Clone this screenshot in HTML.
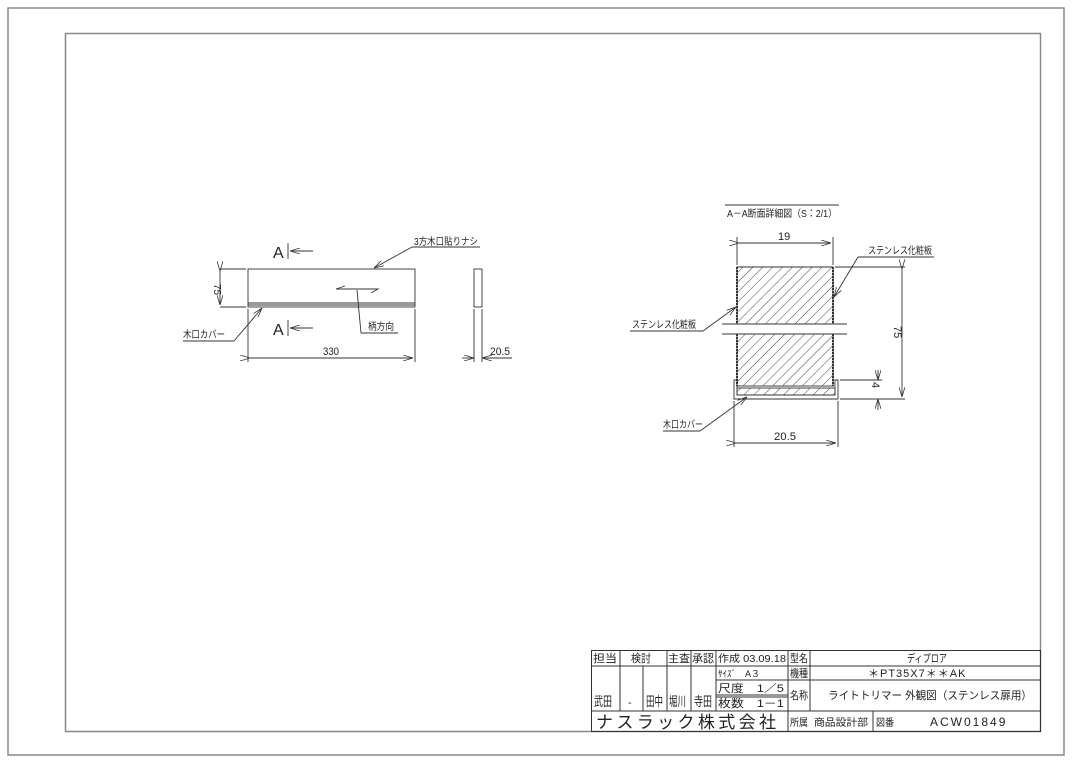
<!DOCTYPE html>
<html><head><meta charset="utf-8"><style>
html,body{margin:0;padding:0;background:#fff;}
svg{display:block;font-family:"Liberation Sans","Noto Sans CJK JP",sans-serif;}
</style></head><body>
<svg width="1080" height="764" viewBox="0 0 1080 764" xmlns="http://www.w3.org/2000/svg">
<defs>
<pattern id="h" patternUnits="userSpaceOnUse" width="7" height="7" patternTransform="rotate(45)">
<line x1="0" y1="0" x2="0" y2="7" stroke="#333" stroke-width="0.9"/>
</pattern>
<marker id="a" markerWidth="10" markerHeight="6" refX="10" refY="3" orient="auto" markerUnits="userSpaceOnUse"><path d="M0,0 L10,3 L0,6" fill="none" stroke="#333" stroke-width="0.8"/></marker>
</defs>
<g fill="none" stroke="#888" stroke-width="1.5">
<rect x="8" y="8" width="1056" height="747"/>
<rect x="65.5" y="33.5" width="975" height="698"/>
</g>
<g stroke="#333" stroke-width="0.9" fill="none">
<rect x="248" y="269" width="167" height="38"/>
<line x1="248" y1="303" x2="415" y2="303"/>
<line x1="248" y1="305" x2="415" y2="305"/>
<rect x="474" y="269" width="8" height="38"/>
<line x1="220" y1="269" x2="246" y2="269"/>
<line x1="220" y1="307" x2="246" y2="307"/>
<line x1="220" y1="271" x2="220" y2="305" marker-start="url(#a)" marker-end="url(#a)"/>
<line x1="248" y1="309" x2="248" y2="362"/>
<line x1="415" y1="309" x2="415" y2="362"/>
<line x1="250" y1="358" x2="413" y2="358" marker-start="url(#a)" marker-end="url(#a)"/>
<line x1="474" y1="309" x2="474" y2="362"/>
<line x1="482" y1="309" x2="482" y2="362"/>
<line x1="462" y1="358" x2="474" y2="358" marker-end="url(#a)"/>
<line x1="494" y1="358" x2="482" y2="358" marker-end="url(#a)"/>
<line x1="482" y1="358" x2="512" y2="358"/>
<line x1="288" y1="243" x2="288" y2="259"/>
<line x1="313" y1="251" x2="290" y2="251" marker-end="url(#a)"/>
<line x1="288" y1="320" x2="288" y2="336"/>
<line x1="313" y1="328" x2="290" y2="328" marker-end="url(#a)"/>
<line x1="480" y1="247" x2="412" y2="247"/>
<line x1="412" y1="247" x2="374" y2="268" marker-end="url(#a)"/>
<line x1="183" y1="341" x2="234" y2="341"/>
<line x1="234" y1="341" x2="262" y2="308" marker-end="url(#a)"/>
<path d="M336,289 L378,289 L371,293 M336,289 L345,286"/>
<line x1="357" y1="290" x2="361" y2="333"/>
<line x1="361" y1="333" x2="398" y2="333"/>
<rect x="737" y="267" width="96" height="57" fill="url(#h)"/>
<rect x="737" y="334" width="96" height="52" fill="url(#h)"/>
<line x1="737" y1="267" x2="833" y2="267"/>
<line x1="737" y1="267" x2="737" y2="324" stroke-dasharray="2,1" stroke-width="2"/>
<line x1="833" y1="267" x2="833" y2="324" stroke-dasharray="2,1" stroke-width="2"/>
<line x1="737" y1="334" x2="737" y2="386" stroke-dasharray="2,1" stroke-width="2"/>
<line x1="833" y1="334" x2="833" y2="386" stroke-dasharray="2,1" stroke-width="2"/>
<line x1="722" y1="324" x2="847" y2="324"/>
<line x1="722" y1="334" x2="847" y2="334"/>
<path d="M734,380 L734,399 L838,399 L838,380 L835,380 L835,395 L737,395 L737,380 Z"/>
<rect x="737" y="388" width="98" height="7" fill="url(#h)"/>
<line x1="737" y1="237" x2="737" y2="265"/>
<line x1="833" y1="237" x2="833" y2="265"/>
<line x1="739" y1="243" x2="831" y2="243" marker-start="url(#a)" marker-end="url(#a)"/>
<line x1="835" y1="267" x2="905" y2="267"/>
<line x1="840" y1="399" x2="905" y2="399"/>
<line x1="902" y1="269" x2="902" y2="397" marker-start="url(#a)" marker-end="url(#a)"/>
<line x1="840" y1="380" x2="882" y2="380"/>
<line x1="878" y1="370" x2="878" y2="380" marker-end="url(#a)"/>
<line x1="878" y1="410" x2="878" y2="399" marker-end="url(#a)"/>
<line x1="734" y1="401" x2="734" y2="447"/>
<line x1="838" y1="401" x2="838" y2="447"/>
<line x1="736" y1="443" x2="836" y2="443" marker-start="url(#a)" marker-end="url(#a)"/>
<line x1="934" y1="257" x2="858" y2="257"/>
<line x1="858" y1="257" x2="834" y2="297" marker-end="url(#a)"/>
<line x1="630" y1="331" x2="703" y2="331"/>
<line x1="703" y1="331" x2="736" y2="307" marker-end="url(#a)"/>
<line x1="663" y1="431" x2="700" y2="431"/>
<line x1="700" y1="431" x2="747" y2="397" marker-end="url(#a)"/>
<line x1="725" y1="205" x2="839" y2="205"/>
</g>
<g fill="#222" font-size="10">
<text x="273" y="258" font-size="16">A</text>
<text x="273" y="335" font-size="16">A</text>
<text x="414" y="245" textLength="64" lengthAdjust="spacingAndGlyphs">3方木口貼りナシ</text>
<text x="183" y="338" textLength="42" lengthAdjust="spacingAndGlyphs">木口カバー</text>
<text x="368" y="330" textLength="26" lengthAdjust="spacingAndGlyphs">柄方向</text>
<text x="323" y="355" font-size="11" textLength="16" lengthAdjust="spacingAndGlyphs">330</text>
<text x="490" y="355" font-size="11" textLength="20" lengthAdjust="spacingAndGlyphs">20.5</text>
<text x="210" y="288" transform="rotate(90 214 288)">75</text>
<text x="727" y="217" textLength="110" lengthAdjust="spacingAndGlyphs">A－A断面詳細図（S：2/1）</text>
<text x="778" y="240" font-size="11">19</text>
<text x="868" y="254" textLength="64" lengthAdjust="spacingAndGlyphs">ステンレス化粧板</text>
<text x="632" y="328" textLength="64" lengthAdjust="spacingAndGlyphs">ステンレス化粧板</text>
<text x="663" y="428" textLength="40" lengthAdjust="spacingAndGlyphs">木口カバー</text>
<text x="774" y="440" font-size="11" textLength="22" lengthAdjust="spacingAndGlyphs">20.5</text>
<text x="890" y="330" font-size="11" transform="rotate(90 894 330)">75</text>
<text x="868" y="386" font-size="11" transform="rotate(90 872 386)">4</text>
</g>
<g stroke="#333" stroke-width="1" fill="none">
<rect x="591.5" y="650.5" width="449" height="81"/>
<line x1="591" y1="666" x2="1040" y2="666"/>
<line x1="716" y1="680" x2="1040" y2="680"/>
<line x1="716" y1="695" x2="788" y2="695"/>
<line x1="716" y1="697" x2="788" y2="697"/>
<line x1="591" y1="711" x2="1040" y2="711"/>
<line x1="620" y1="650" x2="620" y2="711"/>
<line x1="643" y1="666" x2="643" y2="711"/>
<line x1="667" y1="650" x2="667" y2="711"/>
<line x1="691" y1="650" x2="691" y2="711"/>
<line x1="716" y1="650" x2="716" y2="711"/>
<line x1="788" y1="650" x2="788" y2="731"/>
<line x1="810" y1="650" x2="810" y2="711"/>
<line x1="873" y1="711" x2="873" y2="731"/>
</g>
<g fill="#222" font-size="11">
<text x="593" y="662" textLength="24" lengthAdjust="spacingAndGlyphs">担当</text>
<text x="631" y="662" textLength="20" lengthAdjust="spacingAndGlyphs">検討</text>
<text x="668" y="662" textLength="22" lengthAdjust="spacingAndGlyphs">主査</text>
<text x="692" y="662" textLength="22" lengthAdjust="spacingAndGlyphs">承認</text>
<text x="718" y="662" font-size="10" textLength="68" lengthAdjust="spacingAndGlyphs">作成 03.09.18</text>
<text x="790" y="662" textLength="18" lengthAdjust="spacingAndGlyphs">型名</text>
<text x="907" y="662" textLength="40" lengthAdjust="spacingAndGlyphs">ディプロア</text>
<text x="718" y="677" font-size="9">ｻｲｽﾞ　A３</text>
<text x="790" y="677" textLength="18" lengthAdjust="spacingAndGlyphs">機種</text>
<text x="868" y="677" letter-spacing="1">＊PT35X7＊＊AK</text>
<text x="718" y="692" textLength="66" lengthAdjust="spacingAndGlyphs">尺度　1／5</text>
<text x="718" y="707" textLength="66" lengthAdjust="spacingAndGlyphs">枚数　1－1</text>
<text x="790" y="699" textLength="18" lengthAdjust="spacingAndGlyphs">名称</text>
<text x="828" y="699" textLength="204" lengthAdjust="spacingAndGlyphs">ライトトリマー 外観図（ステンレス扉用）</text>
<text x="594" y="706" font-size="13" textLength="18" lengthAdjust="spacingAndGlyphs">武田</text>
<text x="628" y="706">-</text>
<text x="646" y="706" font-size="13" textLength="17" lengthAdjust="spacingAndGlyphs">田中</text>
<text x="669" y="706" font-size="13" textLength="17" lengthAdjust="spacingAndGlyphs">堀川</text>
<text x="694" y="706" font-size="13" textLength="18" lengthAdjust="spacingAndGlyphs">寺田</text>
<text x="596" y="728" font-size="17" textLength="180" lengthAdjust="spacing">ナスラック株式会社</text>
<text x="790" y="726" font-size="10" textLength="18" lengthAdjust="spacingAndGlyphs">所属</text>
<text x="814" y="726" font-size="10" textLength="54" lengthAdjust="spacingAndGlyphs">商品設計部</text>
<text x="876" y="726" font-size="10" textLength="18" lengthAdjust="spacingAndGlyphs">図番</text>
<text x="930" y="726" font-size="12" letter-spacing="2">ACW01849</text>
</g>
</svg>
</body></html>
